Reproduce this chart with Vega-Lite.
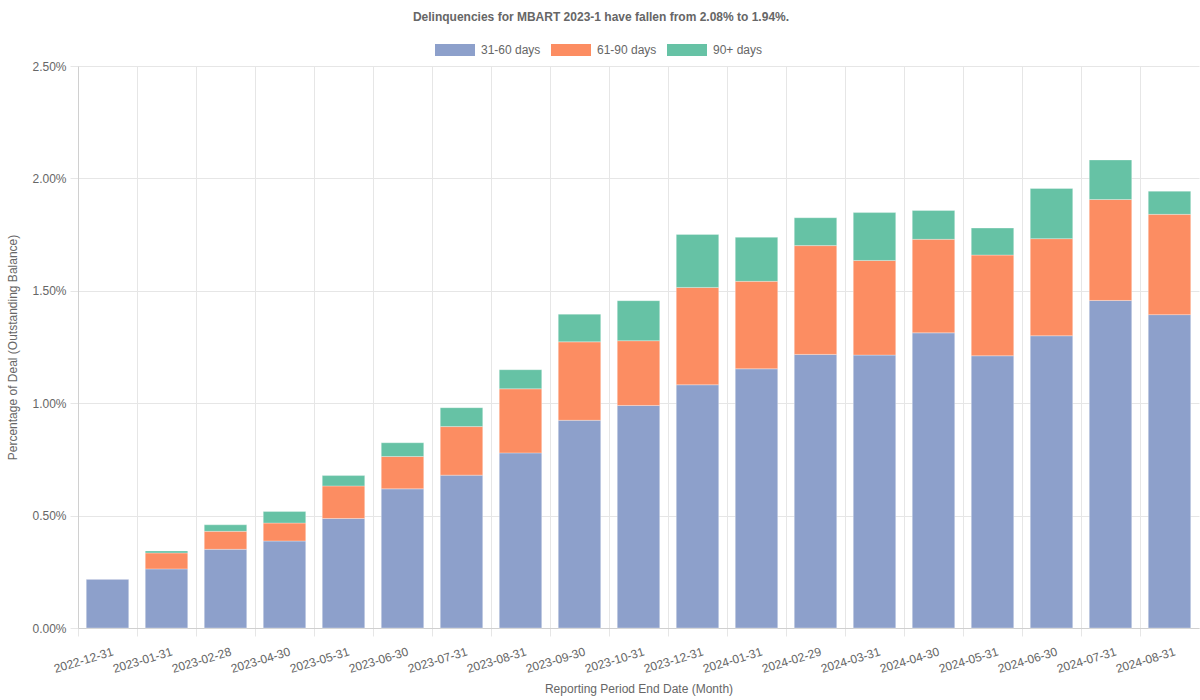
{
  "$schema": "https://vega.github.io/schema/vega-lite/v6.json",
  "width": 1121,
  "height": 562,
  "autosize": {"type": "none"},
  "padding": {"left": 78, "top": 66, "right": 1, "bottom": 72},
  "config": {
    "font": "Liberation Sans",
    "view": {"stroke": null},
    "axis": {"labelColor": "#666666", "labelFontSize": 12, "titleColor": "#666666", "titleFontSize": 12, "titleFontWeight": "normal", "gridColor": "#e6e6e6", "tickColor": "#e6e6e6", "domainColor": "#d0d0d0"}
  },
  "title": {
    "text": "Delinquencies for MBART 2023-1 have fallen from 2.08% to 1.94%.",
    "fontSize": 12,
    "fontWeight": "bold",
    "color": "#666666",
    "anchor": "middle",
    "frame": "group",
    "dx": -37.5,
    "offset": 6
  },
  "data": {
    "values": [
      {"date": "2022-12-31", "bucket": "31-60 days", "value": 0.218},
      {"date": "2022-12-31", "bucket": "61-90 days", "value": 0},
      {"date": "2022-12-31", "bucket": "90+ days", "value": 0},
      {"date": "2023-01-31", "bucket": "31-60 days", "value": 0.263},
      {"date": "2023-01-31", "bucket": "61-90 days", "value": 0.071},
      {"date": "2023-01-31", "bucket": "90+ days", "value": 0.009},
      {"date": "2023-02-28", "bucket": "31-60 days", "value": 0.350},
      {"date": "2023-02-28", "bucket": "61-90 days", "value": 0.080},
      {"date": "2023-02-28", "bucket": "90+ days", "value": 0.029},
      {"date": "2023-04-30", "bucket": "31-60 days", "value": 0.387},
      {"date": "2023-04-30", "bucket": "61-90 days", "value": 0.080},
      {"date": "2023-04-30", "bucket": "90+ days", "value": 0.051},
      {"date": "2023-05-31", "bucket": "31-60 days", "value": 0.487},
      {"date": "2023-05-31", "bucket": "61-90 days", "value": 0.145},
      {"date": "2023-05-31", "bucket": "90+ days", "value": 0.046},
      {"date": "2023-06-30", "bucket": "31-60 days", "value": 0.619},
      {"date": "2023-06-30", "bucket": "61-90 days", "value": 0.144},
      {"date": "2023-06-30", "bucket": "90+ days", "value": 0.061},
      {"date": "2023-07-31", "bucket": "31-60 days", "value": 0.680},
      {"date": "2023-07-31", "bucket": "61-90 days", "value": 0.216},
      {"date": "2023-07-31", "bucket": "90+ days", "value": 0.084},
      {"date": "2023-08-31", "bucket": "31-60 days", "value": 0.779},
      {"date": "2023-08-31", "bucket": "61-90 days", "value": 0.285},
      {"date": "2023-08-31", "bucket": "90+ days", "value": 0.085},
      {"date": "2023-09-30", "bucket": "31-60 days", "value": 0.924},
      {"date": "2023-09-30", "bucket": "61-90 days", "value": 0.349},
      {"date": "2023-09-30", "bucket": "90+ days", "value": 0.123},
      {"date": "2023-10-31", "bucket": "31-60 days", "value": 0.990},
      {"date": "2023-10-31", "bucket": "61-90 days", "value": 0.288},
      {"date": "2023-10-31", "bucket": "90+ days", "value": 0.178},
      {"date": "2023-12-31", "bucket": "31-60 days", "value": 1.082},
      {"date": "2023-12-31", "bucket": "61-90 days", "value": 0.433},
      {"date": "2023-12-31", "bucket": "90+ days", "value": 0.236},
      {"date": "2024-01-31", "bucket": "31-60 days", "value": 1.153},
      {"date": "2024-01-31", "bucket": "61-90 days", "value": 0.389},
      {"date": "2024-01-31", "bucket": "90+ days", "value": 0.196},
      {"date": "2024-02-29", "bucket": "31-60 days", "value": 1.217},
      {"date": "2024-02-29", "bucket": "61-90 days", "value": 0.484},
      {"date": "2024-02-29", "bucket": "90+ days", "value": 0.124},
      {"date": "2024-03-31", "bucket": "31-60 days", "value": 1.214},
      {"date": "2024-03-31", "bucket": "61-90 days", "value": 0.421},
      {"date": "2024-03-31", "bucket": "90+ days", "value": 0.213},
      {"date": "2024-04-30", "bucket": "31-60 days", "value": 1.313},
      {"date": "2024-04-30", "bucket": "61-90 days", "value": 0.416},
      {"date": "2024-04-30", "bucket": "90+ days", "value": 0.128},
      {"date": "2024-05-31", "bucket": "31-60 days", "value": 1.211},
      {"date": "2024-05-31", "bucket": "61-90 days", "value": 0.448},
      {"date": "2024-05-31", "bucket": "90+ days", "value": 0.120},
      {"date": "2024-06-30", "bucket": "31-60 days", "value": 1.300},
      {"date": "2024-06-30", "bucket": "61-90 days", "value": 0.432},
      {"date": "2024-06-30", "bucket": "90+ days", "value": 0.223},
      {"date": "2024-07-31", "bucket": "31-60 days", "value": 1.457},
      {"date": "2024-07-31", "bucket": "61-90 days", "value": 0.449},
      {"date": "2024-07-31", "bucket": "90+ days", "value": 0.176},
      {"date": "2024-08-31", "bucket": "31-60 days", "value": 1.394},
      {"date": "2024-08-31", "bucket": "61-90 days", "value": 0.446},
      {"date": "2024-08-31", "bucket": "90+ days", "value": 0.103}
    ]
  },
  "mark": {"type": "bar", "stroke": "#ffffff", "strokeWidth": 0.5, "strokeOpacity": 0.6},
  "encoding": {
    "x": {
      "field": "date",
      "type": "ordinal",
      "sort": null,
      "scale": {"paddingInner": 0.28, "paddingOuter": 0.14},
      "axis": {
        "title": "Reporting Period End Date (Month)",
        "titleX": 560.5,
        "titleY": 60,
        "titleBaseline": "middle",
        "titleAlign": "center",
        "labelAngle": -17,
        "labelAlign": "right",
        "labelBaseline": "top",
        "labelPadding": 10,
        "bandPosition": 0.5,
        "tickOffset": -29.5,
        "labelOffset": 33,
        "tickSize": 8,
        "grid": true,
        "labelOverlap": false
      }
    },
    "y": {
      "field": "value",
      "type": "quantitative",
      "stack": "zero",
      "scale": {"domain": [0, 2.5], "nice": false},
      "axis": {
        "title": "Percentage of Deal (Outstanding Balance)",
        "values": [0, 0.5, 1, 1.5, 2, 2.5],
        "labelExpr": "format(datum.value, '.2f') + '%'",
        "tickSize": 8,
        "labelPadding": 4,
        "titleX": -66,
        "titleY": 281,
        "titleAngle": -90,
        "titleAlign": "center",
        "titleBaseline": "middle"
      }
    },
    "color": {
      "field": "bucket",
      "type": "nominal",
      "scale": {"domain": ["31-60 days", "61-90 days", "90+ days"], "range": ["#8da0cb", "#fc8d62", "#66c2a5"]},
      "legend": {
        "title": null,
        "orient": "none",
        "direction": "horizontal",
        "legendX": 357,
        "legendY": -36,
        "padding": 0,
        "symbolType": "M-1,-0.3L1,-0.3L1,0.3L-1,0.3Z",
        "symbolSize": 1600,
        "symbolStrokeWidth": 0,
        "symbolOpacity": 1,
        "labelOffset": 6,
        "columnPadding": 10,
        "labelFontSize": 12,
        "labelColor": "#666666"
      }
    },
    "order": {"field": "bucket", "sort": "ascending"}
  }
}
